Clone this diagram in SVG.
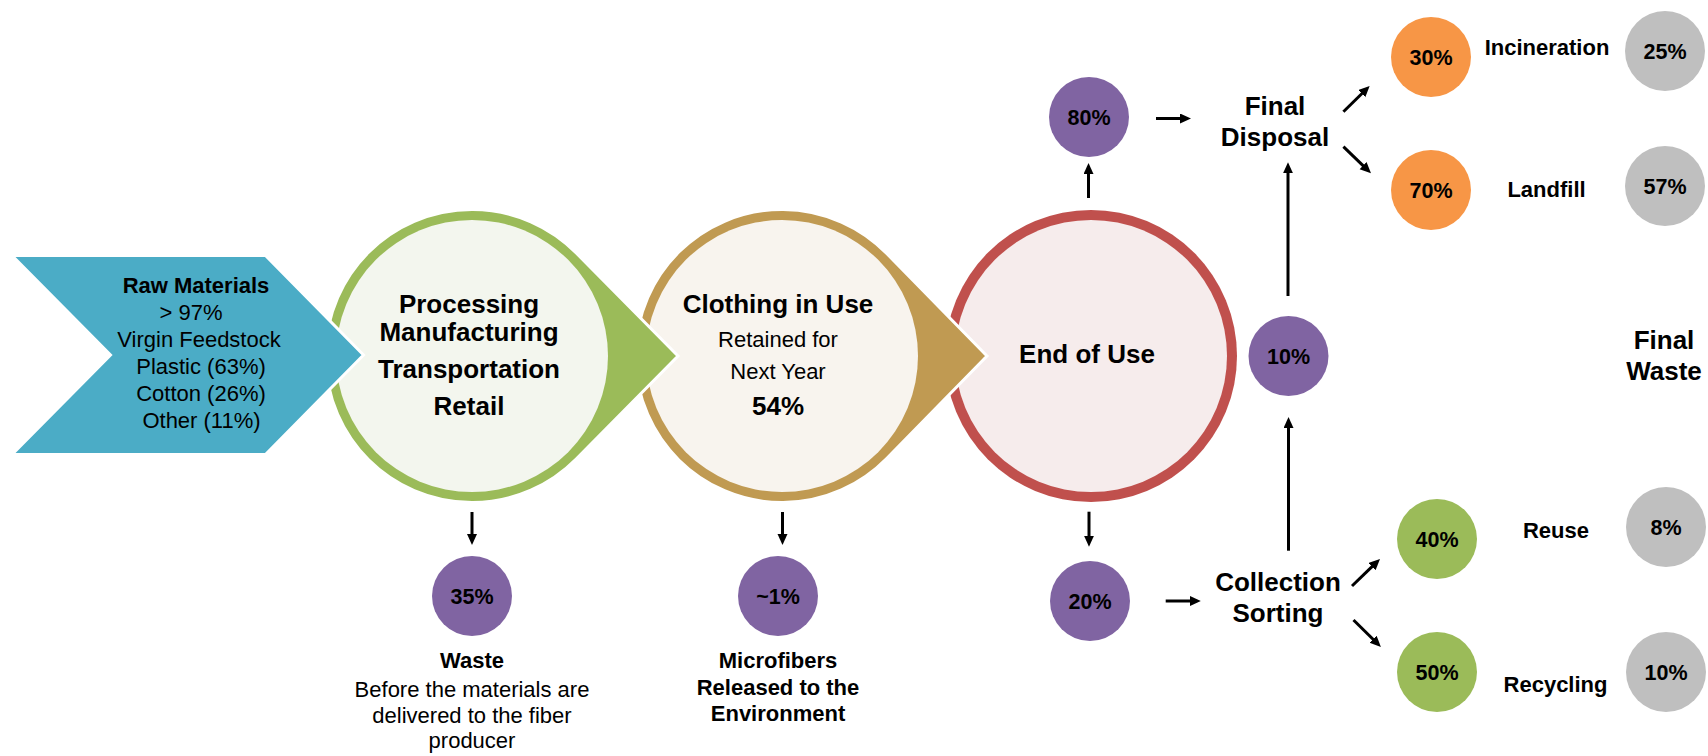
<svg xmlns="http://www.w3.org/2000/svg" width="1708" height="756" viewBox="0 0 1708 756">
  <defs>
    <marker id="arrowhead" markerUnits="userSpaceOnUse" markerWidth="12" markerHeight="11" refX="1" refY="5" orient="auto">
      <path d="M0,0 L11,5 L0,10 Z" fill="#000"/>
    </marker>
  </defs>
  <style>
    text { font-family: "Liberation Sans", Arial, sans-serif; fill: #000; text-anchor: middle; }
    .b { font-weight: bold; }
    .t26 { font-size: 26px; }
    .t22 { font-size: 22px; }
    .pct { font-size: 21.5px; font-weight: bold; }
    .conn { stroke: #000; stroke-width: 3; fill: none; marker-end: url(#arrowhead); }
    .purple { fill: #8064A2; }
    .orange { fill: #F79646; }
    .lime { fill: #9BBB59; }
    .grey { fill: #BFBFBF; }
    .halo { stroke: #fff; stroke-width: 3; stroke-linejoin: miter; }
  </style>

  <rect width="1708" height="756" fill="#fff"/>

  <!-- Stage 4: end of use (drawn first, the stages overlap to the left) -->
  <g id="end-of-use">
    <circle cx="1091" cy="356" r="146" fill="#C0504D"/>
    <circle cx="1091" cy="356" r="136" fill="#F6ECEC"/>
    <text x="1087" y="363" class="b t26">End of Use</text>
  </g>

  <!-- Stage 3: clothing in use -->
  <g id="clothing-in-use">
    <path class="halo" d="M987,356 L886.7,253.5 A146.5,146.5 0 1 0 886.7,458.5 Z" fill="#C09A52"/>
    <circle cx="782" cy="356" r="136" fill="#F8F4EE"/>
    <text x="778" y="312.5" class="b t26">Clothing in Use</text>
    <text x="778" y="347" class="t22">Retained for</text>
    <text x="778" y="379" class="t22">Next Year</text>
    <text x="778" y="414.5" class="b t26">54%</text>
  </g>

  <!-- Stage 2: processing -->
  <g id="processing">
    <path class="halo" d="M678,356 L576.2,253 A146.5,146.5 0 1 0 576.2,459 Z" fill="#9BBB59"/>
    <circle cx="472" cy="356" r="136" fill="#F3F6EE"/>
    <text x="469" y="313" class="b t26">Processing</text>
    <text x="469" y="341" class="b t26">Manufacturing</text>
    <text x="469" y="378" class="b t26">Transportation</text>
    <text x="469" y="415" class="b t26">Retail</text>
  </g>

  <!-- Stage 1: raw materials chevron -->
  <g id="raw-materials">
    <polygon class="halo" points="12,255.5 265.5,255.5 363.5,355 265.5,454.5 12,454.5 110.5,355" fill="#4BACC6"/>
    <text x="196" y="293" class="b t22">Raw Materials</text>
    <text x="191" y="320" class="t22">&gt; 97%</text>
    <text x="199" y="347" class="t22">Virgin Feedstock</text>
    <text x="201" y="374" class="t22">Plastic (63%)</text>
    <text x="201" y="401" class="t22">Cotton (26%)</text>
    <text x="201.5" y="428" class="t22">Other (11%)</text>
  </g>

  <!-- Losses along the chain -->
  <g id="waste">
    <circle cx="472" cy="596" r="40" class="purple"/>
    <text x="472" y="604" class="pct">35%</text>
    <text x="472" y="668" class="b t22">Waste</text>
    <text x="472" y="697" class="t22">Before the materials are</text>
    <text x="472" y="723" class="t22">delivered to the fiber</text>
    <text x="472" y="748" class="t22">producer</text>
  </g>

  <g id="microfibers">
    <circle cx="778" cy="596" r="40" class="purple"/>
    <text x="778" y="604" class="pct">~1%</text>
    <text x="778" y="668" class="b t22">Microfibers</text>
    <text x="778" y="695" class="b t22">Released to the</text>
    <text x="778" y="721" class="b t22">Environment</text>
  </g>

  <!-- Split after end of use -->
  <g id="share-disposal">
    <circle cx="1089" cy="117" r="40" class="purple"/>
    <text x="1089" y="125" class="pct">80%</text>
  </g>
  <g id="share-collection">
    <circle cx="1090" cy="601" r="40" class="purple"/>
    <text x="1090" y="609" class="pct">20%</text>
  </g>
  <g id="share-rejected">
    <circle cx="1288.5" cy="356" r="40" class="purple"/>
    <text x="1288.5" y="364" class="pct">10%</text>
  </g>

  <g id="final-disposal">
    <text x="1275" y="115" class="b t26">Final</text>
    <text x="1275" y="146" class="b t26">Disposal</text>
  </g>
  <g id="collection-sorting">
    <text x="1278" y="591" class="b t26">Collection</text>
    <text x="1278" y="622" class="b t26">Sorting</text>
  </g>

  <!-- Disposal routes -->
  <g id="incineration">
    <circle cx="1431" cy="57" r="40" class="orange"/>
    <text x="1431" y="65" class="pct">30%</text>
    <text x="1547" y="55" class="b t22">Incineration</text>
  </g>
  <g id="landfill">
    <circle cx="1431" cy="190" r="40" class="orange"/>
    <text x="1431" y="198" class="pct">70%</text>
    <text x="1546.5" y="197" class="b t22">Landfill</text>
  </g>

  <!-- Collection routes -->
  <g id="reuse">
    <circle cx="1437" cy="539" r="40" class="lime"/>
    <text x="1437" y="547" class="pct">40%</text>
    <text x="1556" y="538" class="b t22">Reuse</text>
  </g>
  <g id="recycling">
    <circle cx="1437" cy="672" r="40" class="lime"/>
    <text x="1437" y="680" class="pct">50%</text>
    <text x="1555.5" y="692" class="b t22">Recycling</text>
  </g>

  <!-- Final waste column -->
  <g id="final-waste">
    <text x="1664" y="349" class="b t26">Final</text>
    <text x="1664" y="380" class="b t26">Waste</text>
  </g>
  <g id="final-incineration">
    <circle cx="1665" cy="51" r="40" class="grey"/>
    <text x="1665" y="59" class="pct">25%</text>
  </g>
  <g id="final-landfill">
    <circle cx="1665" cy="186" r="40" class="grey"/>
    <text x="1665" y="194" class="pct">57%</text>
  </g>
  <g id="final-reuse">
    <circle cx="1666" cy="527" r="40" class="grey"/>
    <text x="1666" y="535" class="pct">8%</text>
  </g>
  <g id="final-recycling">
    <circle cx="1666" cy="672" r="40" class="grey"/>
    <text x="1666" y="680" class="pct">10%</text>
  </g>

  <!-- Connectors -->
  <g id="connectors">
    <line class="conn" x1="472" y1="512" x2="472" y2="535"/>
    <line class="conn" x1="782.5" y1="512" x2="782.5" y2="535"/>
    <line class="conn" x1="1088.5" y1="198" x2="1088.5" y2="173"/>
    <line class="conn" x1="1156" y1="118.5" x2="1181" y2="118.5"/>
    <line class="conn" x1="1343.4" y1="111.7" x2="1362.5" y2="93"/>
    <line class="conn" x1="1343.4" y1="146.7" x2="1363.8" y2="166.4"/>
    <line class="conn" x1="1288" y1="296" x2="1288" y2="172.3"/>
    <line class="conn" x1="1288.5" y1="550.7" x2="1288.5" y2="427"/>
    <line class="conn" x1="1089" y1="511.7" x2="1089" y2="536.7"/>
    <line class="conn" x1="1165.7" y1="601" x2="1190.8" y2="601"/>
    <line class="conn" x1="1352" y1="586" x2="1372.8" y2="565.9"/>
    <line class="conn" x1="1353.5" y1="620" x2="1373.8" y2="640"/>
  </g>
</svg>
